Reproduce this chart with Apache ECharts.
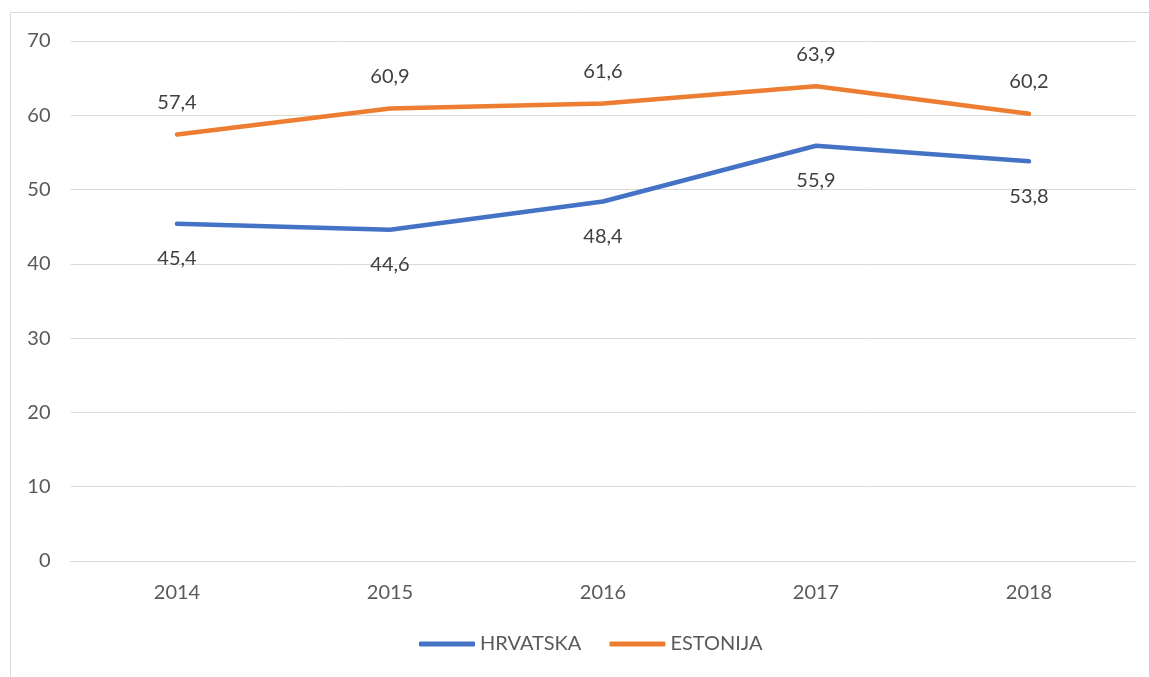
<!DOCTYPE html>
<html>
<head>
<meta charset="utf-8">
<script src="https://cdn.jsdelivr.net/npm/echarts@6/dist/echarts.min.js"></script>
<style>
html,body{margin:0;padding:0;background:#fff;}
#chart{width:1149px;height:677px;}
</style>
</head>
<body>
<div id="chart"></div>
<script>
//podaci
var years = ['2014', '2015', '2016', '2017', '2018'];
var hrvatska = [45.4, 44.6, 48.4, 55.9, 53.8];
var estonija = [57.4, 60.9, 61.6, 63.9, 60.2];

var chart = echarts.init(document.getElementById('chart'));
var fnt = 'Lato, "Liberation Sans", sans-serif';

function fmt(p){
	return String(Number(p.value).toFixed(1)).replace('.', ',');
}

var option = {
	animation: false,
	graphic: [{
		type: 'rect',
		shape: {x: 10.5, y: 12.5, width: 1200, height: 700},
		style: {fill: 'none', stroke: '#d9d9d9', lineWidth: 1},
		silent: true
	}],
	grid: {left: 70.5, right: 13.5, top: 41, bottom: 116},
	legend: {
		top: 634,
		left: 419,
		padding: 0,
		itemWidth: 56,
		itemHeight: 5,
		itemGap: 28,
		icon: 'roundRect',
		textStyle: {color: '#595959', fontSize: 20, fontFamily: fnt},
		data: ['HRVATSKA', 'ESTONIJA']
	},
	xAxis: {
		type: 'category',
		data: years,
		axisLine: {lineStyle: {color: '#d9d9d9', width: 1}},
		axisTick: {show: false},
		axisLabel: {color: '#595959', fontSize: 20, fontFamily: fnt, margin: 22}
	},
	yAxis: {
		type: 'value',
		min: 0,
		max: 70,
		interval: 10,
		axisLine: {show: false},
		axisTick: {show: false},
		axisLabel: {color: '#595959', fontSize: 20, fontFamily: fnt, margin: 20},
		splitLine: {lineStyle: {color: '#d9d9d9', width: 1}}
	},
	series: [
		{
			name: 'HRVATSKA',
			type: 'line',
			data: hrvatska,
			symbol: 'circle',
			symbolSize: 0,
			showSymbol: true,
			lineStyle: {color: '#4472c4', width: 4.5, cap: 'round'},
			itemStyle: {color: '#4472c4'},
			label: {show: true, position: 'bottom', distance: 25, color: '#404040', fontSize: 20, fontFamily: fnt, formatter: fmt}
		},
		{
			name: 'ESTONIJA',
			type: 'line',
			data: estonija,
			symbol: 'circle',
			symbolSize: 0,
			showSymbol: true,
			lineStyle: {color: '#ed7d31', width: 4.5, cap: 'round'},
			itemStyle: {color: '#ed7d31'},
			label: {show: true, position: 'top', distance: 22, color: '#404040', fontSize: 20, fontFamily: fnt, formatter: fmt}
		}
	]
};
chart.setOption(option);
</script>
</body>
</html>
